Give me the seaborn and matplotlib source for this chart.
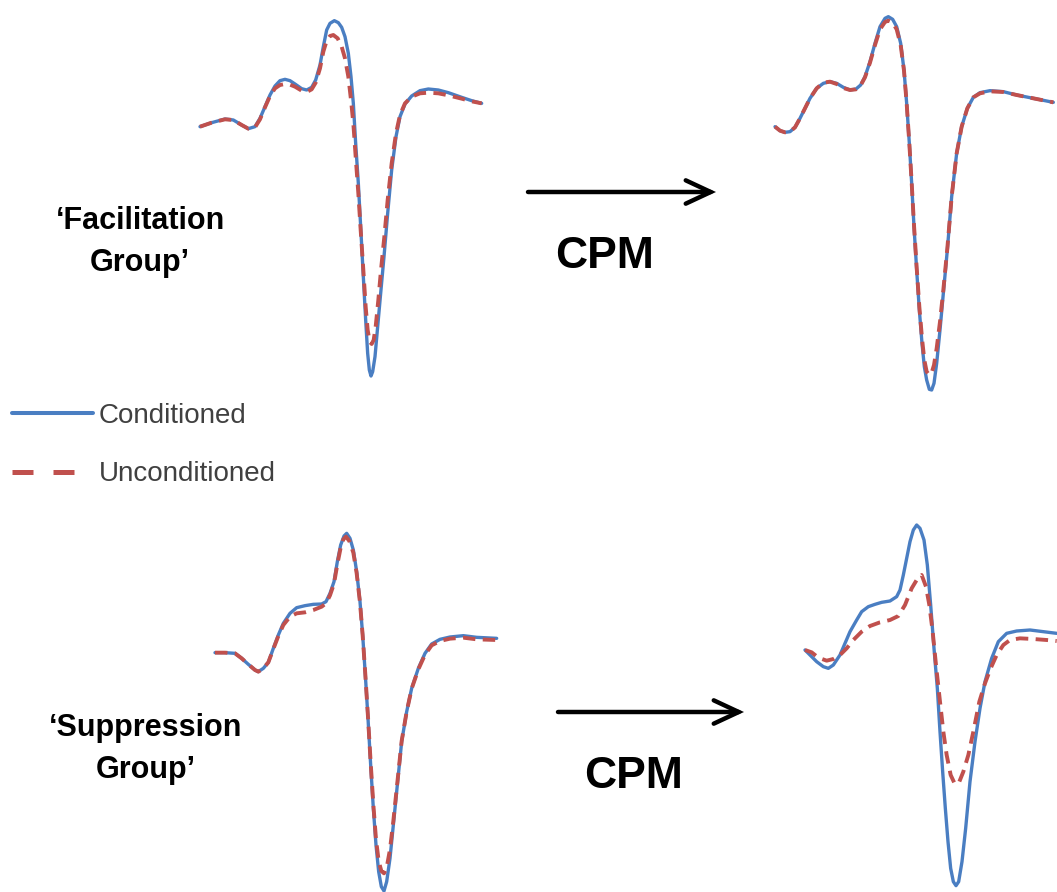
import matplotlib
matplotlib.use("Agg")
import matplotlib.pyplot as plt
from matplotlib.lines import Line2D
import seaborn as sns
import pandas as pd

sns.set_theme(style="white")
plt.rcParams['font.family'] = ['Liberation Sans', 'DejaVu Sans']

W, H = 1057, 892
BLUE = "#4A7EC2"
RED = "#C0504D"

# ---- waveform data: time (arbitrary units), amplitude relative to baseline (arbitrary units) ----
# Facilitation group, before CPM
fac_pre_t = [15, 50, 90, 115, 140, 160, 180, 195, 210, 225, 240, 255, 270, 285, 300, 320, 335, 350, 362, 375, 385, 395, 405, 418, 430, 440, 450, 460, 468, 475, 482, 490, 497, 505, 512, 518, 523, 528, 533, 540, 548, 557, 567, 578, 590, 603, 615, 630, 650, 675, 700, 730, 760, 800, 830, 860]
fac_pre_cond = [0, 12, 23, 20, 5, -6, 0, 25, 60, 95, 122, 138, 142, 138, 128, 114, 110, 118, 140, 185, 240, 290, 310, 318, 312, 298, 270, 220, 150, 70, -50, -170, -300, -450, -580, -680, -730, -748, -735, -690, -600, -500, -390, -260, -130, -30, 30, 68, 92, 108, 113, 110, 102, 88, 78, 70]
fac_pre_unc_t = [15, 50, 90, 115, 140, 160, 180, 195, 210, 225, 240, 255, 270, 285, 300, 320, 335, 350, 362, 375, 385, 395, 405, 415, 428, 440, 450, 460, 468, 475, 482, 490, 497, 505, 512, 518, 524, 530, 536, 542, 550, 558, 568, 578, 590, 603, 615, 630, 650, 675, 700, 730, 760, 800, 830, 860]
fac_pre_unc = [0, 12, 22, 20, 5, -6, -2, 22, 58, 92, 115, 125, 128, 126, 120, 108, 104, 112, 132, 175, 225, 258, 272, 275, 265, 240, 205, 150, 80, 10, -90, -200, -310, -430, -540, -610, -645, -652, -640, -600, -520, -430, -330, -220, -110, -20, 35, 70, 90, 100, 102, 100, 94, 84, 76, 70]

# Facilitation group, after CPM
fac_post_t = [15, 30, 45, 60, 75, 90, 105, 120, 140, 160, 180, 200, 220, 240, 258, 272, 285, 300, 315, 330, 345, 355, 368, 380, 392, 402, 410, 418, 425, 432, 440, 448, 456, 463, 470, 478, 485, 492, 500, 510, 520, 532, 545, 560, 575, 592, 610, 630, 660, 700, 740, 790, 850]
fac_post_cond = [0, -12, -17, -15, -2, 25, 55, 85, 115, 130, 135, 130, 118, 110, 113, 125, 150, 195, 250, 300, 325, 330, 322, 300, 250, 170, 70, -50, -170, -300, -430, -550, -650, -720, -760, -788, -790, -770, -710, -610, -500, -370, -210, -80, 0, 55, 88, 102, 108, 105, 95, 85, 73]
fac_post_unc_t = [15, 30, 45, 60, 75, 90, 105, 120, 140, 160, 180, 200, 220, 240, 258, 272, 285, 300, 315, 330, 345, 355, 368, 380, 392, 402, 410, 418, 425, 432, 440, 448, 456, 463, 470, 478, 485, 492, 500, 510, 520, 532, 545, 560, 575, 592, 610, 630, 660, 700, 740, 790, 850]
fac_post_unc = [0, -12, -17, -15, -2, 25, 55, 85, 115, 132, 135, 128, 116, 110, 112, 124, 148, 192, 245, 292, 314, 318, 312, 292, 245, 168, 70, -50, -168, -295, -422, -540, -635, -700, -735, -745, -738, -715, -665, -585, -490, -365, -210, -80, 0, 55, 88, 100, 106, 104, 95, 85, 73]

# Suppression group, before CPM
sup_pre_t = [15, 45, 75, 95, 115, 135, 145, 160, 175, 190, 205, 220, 240, 260, 285, 310, 335, 348, 360, 372, 382, 392, 402, 410, 420, 430, 440, 450, 458, 466, 474, 482, 490, 498, 506, 514, 522, 530, 540, 550, 562, 575, 590, 605, 625, 645, 665, 690, 720, 760, 800, 860]
sup_pre_cond = [0, 0, -2, -17, -35, -52, -57, -47, -29, 13, 53, 88, 118, 135, 141, 145, 146, 153, 178, 213, 273, 323, 350, 358, 343, 308, 243, 153, 53, -67, -197, -337, -467, -577, -657, -702, -715, -687, -617, -517, -397, -267, -177, -107, -47, -2, 26, 40, 47, 51, 46, 43]
sup_pre_unc_t = [15, 45, 75, 95, 115, 135, 145, 160, 175, 190, 205, 220, 240, 260, 285, 310, 335, 348, 360, 372, 382, 392, 400, 408, 418, 430, 440, 450, 458, 466, 474, 482, 490, 498, 506, 514, 522, 530, 540, 550, 562, 575, 590, 605, 625, 645, 665, 690, 720, 760, 800, 860]
sup_pre_unc = [0, 0, -2, -17, -35, -52, -57, -47, -29, 11, 50, 83, 108, 118, 121, 128, 138, 148, 172, 207, 265, 315, 340, 348, 335, 300, 238, 150, 52, -66, -193, -330, -455, -560, -625, -655, -662, -645, -590, -505, -390, -265, -177, -108, -50, -6, 22, 35, 42, 45, 40, 38]

# Suppression group, after CPM
sup_post_t = [15, 30, 50, 70, 85, 100, 120, 135, 150, 170, 185, 205, 225, 245, 270, 290, 300, 310, 320, 330, 340, 350, 360, 372, 382, 392, 402, 412, 420, 428, 436, 444, 452, 460, 468, 476, 486, 497, 510, 525, 540, 555, 575, 595, 620, 650, 690, 730, 770]
sup_post_cond = [0, -15, -35, -50, -55, -45, -15, 20, 55, 90, 115, 130, 137, 143, 147, 160, 180, 225, 275, 325, 360, 375, 365, 330, 255, 135, 5, -115, -245, -365, -475, -575, -655, -695, -707, -695, -635, -535, -395, -275, -175, -95, -25, 25, 50, 57, 60, 55, 50]
sup_post_unc_t = [15, 35, 55, 80, 100, 120, 140, 160, 185, 210, 240, 270, 295, 315, 335, 350, 365, 378, 388, 398, 408, 420, 430, 440, 452, 465, 478, 490, 505, 520, 538, 555, 572, 590, 610, 630, 660, 700, 740, 770]
sup_post_unc = [0, -7, -23, -32, -27, -15, 5, 30, 55, 72, 83, 90, 102, 135, 185, 210, 225, 190, 135, 55, -45, -155, -245, -315, -375, -403, -395, -365, -315, -245, -155, -100, -55, -15, 15, 30, 35, 33, 30, 27]

panels = [
    # pixel box of each panel: left, top, width, height; data scale 3 units/px; baseline row (units from top)
    dict(box=(195, 10, 295, 380), base=350, ct=fac_pre_t, cy=fac_pre_cond, ut=fac_pre_unc_t, uy=fac_pre_unc),
    dict(box=(770, 10, 287, 390), base=350, ct=fac_post_t, cy=fac_post_cond, ut=fac_post_unc_t, uy=fac_post_unc),
    dict(box=(210, 525, 295, 367), base=383, ct=sup_pre_t, cy=sup_pre_cond, ut=sup_pre_unc_t, uy=sup_pre_unc),
    dict(box=(800, 515, 257, 377), base=405, ct=sup_post_t, cy=sup_post_cond, ut=sup_post_unc_t, uy=sup_post_unc),
]
S = 3  # data units per pixel

fig = plt.figure(figsize=(W / 100, H / 100), dpi=100)

for p in panels:
    left, top, w, h = p["box"]
    base = p["base"]
    ax = fig.add_axes([left / W, 1 - (top + h) / H, w / W, h / H])
    dc = pd.DataFrame({"t": p["ct"], "amp": p["cy"]})
    du = pd.DataFrame({"t": p["ut"], "amp": p["uy"]})
    sns.lineplot(data=dc, x="t", y="amp", ax=ax, color=BLUE, lw=2.4,
                 estimator=None, solid_joinstyle="round", solid_capstyle="round")
    sns.lineplot(data=du, x="t", y="amp", ax=ax, color=RED, lw=2.8,
                 estimator=None, linestyle=(0, (3.2, 1.9)))
    ax.set_xlim(0, w * S)
    ax.set_ylim(base - h * S, base)
    ax.axis("off")

# overlay axes for texts/arrows in pixel coordinates
ov = fig.add_axes([0, 0, 1, 1])
ov.set_xlim(0, W)
ov.set_ylim(H, 0)
ov.axis("off")
ov.patch.set_alpha(0)

ov.text(140, 242, "\u2018Facilitation\nGroup\u2019", ha="center", va="center",
        fontsize=22, fontweight="bold", linespacing=1.5, color="black")
ov.text(146, 749, "\u2018Suppression\nGroup\u2019", ha="center", va="center",
        fontsize=22, fontweight="bold", linespacing=1.5, color="black")
ov.text(605, 256, "CPM", ha="center", va="center", fontsize=32, fontweight="bold", color="black")
ov.text(634, 776, "CPM", ha="center", va="center", fontsize=32, fontweight="bold", color="black")

for (x0, x1, y) in [(528, 716, 192), (558, 744, 712)]:
    ov.annotate("", xy=(x1, y), xytext=(x0, y),
                arrowprops=dict(arrowstyle="->,head_length=1.5,head_width=0.7",
                                lw=3.2, color="black", shrinkA=0, shrinkB=0,
                                joinstyle="miter"))

handles = [Line2D([], [], color=BLUE, lw=2.9),
           Line2D([], [], color=RED, lw=3.6, linestyle=(0, (4.2, 4.0)))]
fig.legend(handles, ["Conditioned", "Unconditioned"], loc="upper left",
           bbox_to_anchor=(12 / W, 1 - 403 / H), frameon=False, fontsize=20,
           borderpad=0, borderaxespad=0,
           handlelength=2.9, handletextpad=0.22, labelspacing=1.16,
           labelcolor="#404040")

fig.savefig("out.png", dpi=100)
